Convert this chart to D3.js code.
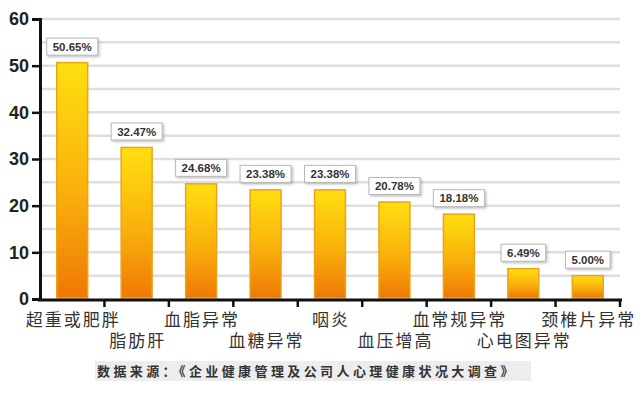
<!DOCTYPE html>
<html>
<head>
<meta charset="utf-8">
<script src="https://cdn.jsdelivr.net/npm/d3@7"></script>
<style>
  body { margin: 0; background: #fff; }
  svg { display: block; }
</style>
</head>
<body>
<div id="chart"></div>
<script>
"use strict";

const categories = ["超重或肥胖", "脂肪肝", "血脂异常", "血糖异常", "咽炎", "血压增高", "血常规异常", "心电图异常", "颈椎片异常"];
const values = [50.65, 32.47, 24.68, 23.38, 23.38, 20.78, 18.18, 6.49, 5.00];
const yTicks = [0, 10, 20, 30, 40, 50, 60];
const sourceText = "数据来源：《企业健康管理及公司人心理健康状况大调查》";

const width = 640, height = 397;
const cjk = "'Noto Sans CJK SC', sans-serif";

const svg = d3.select("#chart").append("svg")
  .attr("width", width)
  .attr("height", height);

const defs = svg.append("defs");
const grad = defs.append("linearGradient")
  .attr("id", "barGrad")
  .attr("x1", 0).attr("y1", 0).attr("x2", 0).attr("y2", 1);
grad.append("stop").attr("offset", "0%").attr("stop-color", "#ffdf10");
grad.append("stop").attr("offset", "55%").attr("stop-color", "#f9b00c");
grad.append("stop").attr("offset", "100%").attr("stop-color", "#ef7805");

const shadow = defs.append("filter").attr("id", "shadow")
  .attr("x", "-20%").attr("y", "-30%").attr("width", "150%").attr("height", "180%");
shadow.append("feDropShadow")
  .attr("dx", 1.5).attr("dy", 1.5).attr("stdDeviation", 1)
  .attr("flood-color", "#888").attr("flood-opacity", 0.5);

const y = d3.scaleLinear().domain([0, 60]).range([299, 19]);
const xStep = d3.scaleBand().domain(categories).range([40, 620]).padding(0);
const barW = xStep.bandwidth() * 0.48;

// grid lines every 5 units
svg.append("g")
  .selectAll("line")
  .data(d3.range(5, 61, 5))
  .join("line")
  .attr("x1", 40).attr("x2", 620)
  .attr("y1", d => y(d)).attr("y2", d => y(d))
  .attr("stroke", "#dedede")
  .attr("stroke-width", 2.5);

// bars
svg.append("g")
  .selectAll("rect")
  .data(values)
  .join("rect")
  .attr("x", (d, i) => xStep(categories[i]) + (xStep.bandwidth() - barW) / 2)
  .attr("y", d => y(d))
  .attr("width", barW)
  .attr("height", d => y(0) - 1 - y(d))
  .attr("fill", "url(#barGrad)")
  .attr("stroke", "#eaa41a")
  .attr("stroke-width", 1.5);

// value labels
const lab = svg.append("g")
  .selectAll("g")
  .data(values)
  .join("g")
  .attr("transform", (d, i) => `translate(${xStep(categories[i]) + xStep.bandwidth() / 2},${y(d) - 16})`);

lab.append("rect").attr("class", "box");
lab.append("text")
  .attr("text-anchor", "middle")
  .attr("dy", "0.36em")
  .attr("font-family", "Arial, 'Liberation Sans', sans-serif")
  .attr("font-weight", "bold")
  .attr("font-size", 11.5)
  .attr("fill", "#333")
  .text(d => d.toFixed(2) + "%");

lab.each(function () {
  const g = d3.select(this);
  const w = g.select("text").node().getComputedTextLength() + 12;
  g.select("rect.box")
    .attr("x", -w / 2).attr("y", -8.5)
    .attr("width", w).attr("height", 17)
    .attr("fill", "#fff")
    .attr("stroke", "#b8b8b8")
    .attr("stroke-width", 1)
    .attr("filter", "url(#shadow)");
});

// y axis
const yAxis = d3.axisLeft(y).tickValues(yTicks).tickSize(8).tickPadding(3);
const gy = svg.append("g")
  .attr("transform", "translate(40,0)")
  .call(yAxis);
gy.select(".domain").attr("stroke", "#111").attr("stroke-width", 3);
gy.selectAll(".tick line").attr("stroke", "#111").attr("stroke-width", 2.5);
gy.selectAll(".tick text")
  .attr("font-family", "Arial, 'Liberation Sans', sans-serif")
  .attr("font-weight", "bold")
  .attr("font-size", 18)
  .attr("fill", "#222");

// x axis
svg.append("line")
  .attr("x1", 38).attr("x2", 622)
  .attr("y1", y(0) + 1).attr("y2", y(0) + 1)
  .attr("stroke", "#111").attr("stroke-width", 3);

svg.append("g")
  .selectAll("line")
  .data(categories)
  .join("line")
  .attr("x1", d => xStep(d) + xStep.bandwidth())
  .attr("x2", d => xStep(d) + xStep.bandwidth())
  .attr("y1", y(0)).attr("y2", y(0) + 8)
  .attr("stroke", "#111").attr("stroke-width", 2.5);

// category labels, staggered on two rows
svg.append("g")
  .selectAll("text")
  .data(categories)
  .join("text")
  .attr("x", d => xStep(d) + xStep.bandwidth() / 2 + 1)
  .attr("y", (d, i) => i % 2 === 0 ? 320 : 341)
  .attr("dy", "0.36em")
  .attr("text-anchor", "middle")
  .attr("font-family", cjk)
  .attr("font-size", 17)
  .attr("letter-spacing", 2)
  .attr("fill", "#333")
  .text(d => d);

// source note
svg.append("rect")
  .attr("x", 95).attr("y", 361)
  .attr("width", 436).attr("height", 20)
  .attr("fill", "#ededed");

svg.append("text")
  .attr("x", 97).attr("y", 371)
  .attr("dy", "0.36em")
  .attr("font-family", cjk)
  .attr("font-weight", "bold")
  .attr("font-size", 13)
  .attr("letter-spacing", 3.4)
  .attr("fill", "#333")
  .text(sourceText);
</script>
</body>
</html>
